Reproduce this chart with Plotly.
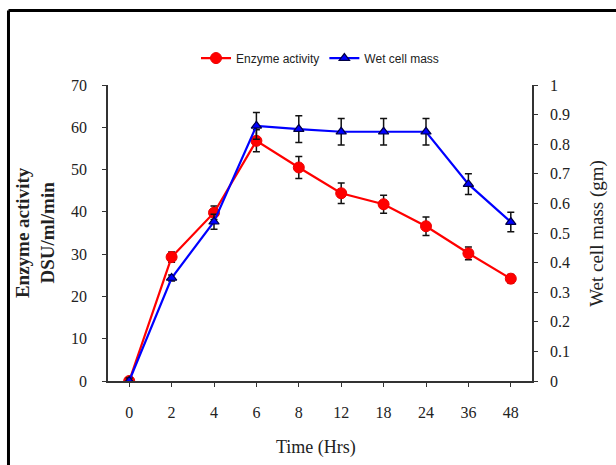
import plotly.graph_objects as go

time_labels = ["0", "2", "4", "6", "8", "12", "18", "24", "36", "48"]
enzyme_activity = [0, 29.3, 39.8, 56.8, 50.5, 44.4, 41.8, 36.6, 30.2, 24.2]
enzyme_err = [0.5, 1.2, 1.6, 2.6, 2.6, 2.4, 2.1, 2.2, 1.5, 1.0]
wet_cell_mass = [0, 0.348, 0.538, 0.862, 0.851, 0.842, 0.842, 0.842, 0.665, 0.537]
mass_err = [0.01, 0.01, 0.025, 0.045, 0.045, 0.045, 0.045, 0.045, 0.035, 0.033]

left_ticks = list(range(0, 71, 10))
right_ticks = [0, 0.1, 0.2, 0.3, 0.4, 0.5, 0.6, 0.7, 0.8, 0.9, 1]
right_tick_text = ["0", "0.1", "0.2", "0.3", "0.4", "0.5", "0.6", "0.7", "0.8", "0.9", "1"]

serif = "Liberation Serif, Times New Roman, serif"
txt = "#222222"

fig = go.Figure()
fig.add_trace(go.Scatter(
    x=time_labels, y=enzyme_activity, name="Enzyme activity",
    mode="lines+markers",
    line=dict(color="#ff0000", width=2.2),
    marker=dict(symbol="circle", size=11, color="#ff0000", line=dict(color="#ee0000", width=1)),
    error_y=dict(type="data", array=enzyme_err, color="#111111", thickness=1.5, width=3.5),
    yaxis="y",
))
fig.add_trace(go.Scatter(
    x=time_labels, y=wet_cell_mass, name="Wet cell mass",
    mode="lines+markers",
    line=dict(color="#0000ff", width=2.2),
    marker=dict(symbol="triangle-up", size=9, color="#0000ff", line=dict(color="#000044", width=1.2)),
    error_y=dict(type="data", array=mass_err, color="#111111", thickness=1.5, width=3.5),
    yaxis="y2",
))

fig.update_layout(
    width=616, height=465,
    margin=dict(l=108, r=84, t=85, b=84),
    paper_bgcolor="white", plot_bgcolor="white",
    showlegend=True,
    legend=dict(orientation="h", x=0.5, xanchor="center", y=1.091, yanchor="middle",
                font=dict(family="Liberation Sans, Arial, sans-serif", size=12, color="#222222"),
                bgcolor="rgba(0,0,0,0)", itemwidth=30, tracegroupgap=0),
    xaxis=dict(type="category", range=[-0.5, 9.5], showline=True, linecolor="#333333", linewidth=1.5,
               ticks="outside", ticklen=4, tickcolor="#333333", showgrid=False, zeroline=False,
               ticklabelstandoff=12,
               tickfont=dict(family=serif, size=16, color=txt)),
    yaxis=dict(range=[0, 70], tickvals=left_ticks, showline=True, linecolor="#333333", linewidth=1.5,
               ticks="outside", ticklen=4, tickcolor="#333333", showgrid=False, zeroline=False,
               ticklabelstandoff=12,
               tickfont=dict(family=serif, size=16, color=txt)),
    yaxis2=dict(range=[0, 1], tickvals=right_ticks, ticktext=right_tick_text, overlaying="y", side="right",
                showline=True, linecolor="#333333", linewidth=1.5,
                ticks="outside", ticklen=4, tickcolor="#333333", showgrid=False, zeroline=False,
                ticklabelstandoff=9,
                tickfont=dict(family=serif, size=16, color=txt)),
    annotations=[
        dict(text="<b>Enzyme activity<br>DSU/ml/min</b>", xref="paper", yref="paper",
             x=-0.172, y=0.5, xanchor="center", yanchor="middle", textangle=-90, showarrow=False,
             font=dict(family=serif, size=19, color=txt)),
        dict(text="Wet cell mass (gm)", xref="paper", yref="paper",
             x=1.153, y=0.5, xanchor="center", yanchor="middle", textangle=-90, showarrow=False,
             font=dict(family=serif, size=19, color=txt)),
        dict(text="Time (Hrs)", xref="paper", yref="paper",
             x=0.49, y=-0.223, xanchor="center", yanchor="middle", showarrow=False,
             font=dict(family=serif, size=18, color=txt)),
    ],
    shapes=[
        dict(type="line", xref="paper", yref="paper", x0=-0.2347, x1=1.2, y0=1.2517, y1=1.2517,
             line=dict(color="black", width=3)),
        dict(type="line", xref="paper", yref="paper", x0=-0.2347, x1=-0.2347, y0=-0.3, y1=1.2517,
             line=dict(color="black", width=3)),
        dict(type="line", xref="paper", yref="paper", x0=1.2, x1=1.2, y0=-0.3, y1=1.2517,
             line=dict(color="#cccccc", width=1)),
    ],
)

fig.write_html("out.html")
